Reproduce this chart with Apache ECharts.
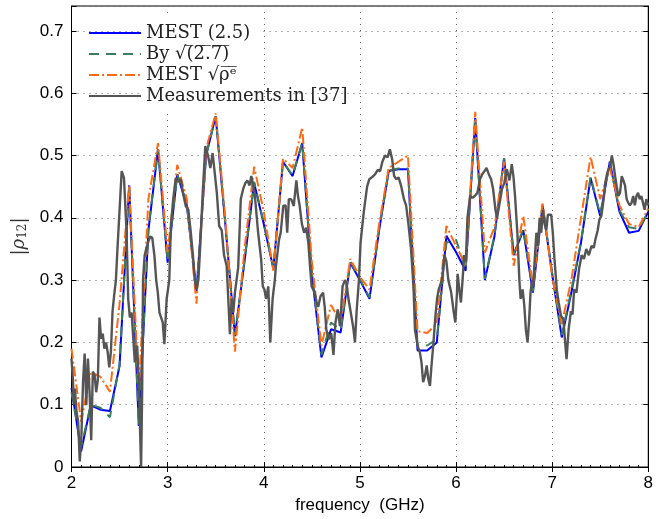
<!DOCTYPE html>
<html>
<head>
<meta charset="utf-8">
<script src="https://cdn.jsdelivr.net/npm/echarts@6/dist/echarts.min.js"></script>
<style>
  html, body { margin: 0; padding: 0; background: #fff; }
  #main { width: 656px; height: 519px; }
</style>
</head>
<body>
<div id="main"></div>
<script>
// model curves, sampled every 0.1 GHz
var modelFreq = [2.0,2.1,2.2,2.3,2.4,2.5,2.6,2.7,2.8,2.9,
                 3.0,3.1,3.2,3.3,3.4,3.5,3.6,3.7,3.8,3.9,
                 4.0,4.1,4.2,4.3,4.4,4.5,4.6,4.7,4.8,4.9,
                 5.0,5.1,5.2,5.3,5.4,5.5,5.6,5.7,5.8,5.9,
                 6.0,6.1,6.2,6.3,6.4,6.5,6.6,6.7,6.8,6.9,
                 7.0,7.1,7.2,7.3,7.4,7.5,7.6,7.7,7.8,7.9,
                 8.0];
var mest = [0.127,0.025,0.099,0.092,0.090,0.162,0.452,0.066,0.380,0.510,
            0.328,0.470,0.420,0.282,0.500,0.563,0.390,0.210,0.330,0.456,
            0.390,0.318,0.490,0.467,0.520,0.310,0.176,0.221,0.216,0.328,
            0.300,0.270,0.380,0.475,0.478,0.478,0.187,0.187,0.200,0.371,
            0.345,0.315,0.560,0.300,0.370,0.496,0.340,0.380,0.280,0.420,
            0.310,0.208,0.280,0.360,0.464,0.403,0.490,0.410,0.376,0.379,
            0.410];
var bySqrt = [0.120,0.032,0.100,0.095,0.080,0.165,0.452,0.068,0.382,0.510,
              0.330,0.470,0.422,0.284,0.500,0.563,0.392,0.212,0.332,0.458,
              0.392,0.320,0.490,0.468,0.520,0.312,0.180,0.232,0.220,0.330,
              0.302,0.272,0.382,0.476,0.479,0.479,0.195,0.195,0.205,0.360,
              0.365,0.318,0.560,0.302,0.372,0.496,0.342,0.382,0.282,0.420,
              0.312,0.212,0.284,0.362,0.466,0.405,0.490,0.412,0.385,0.382,
              0.410];
var mestRho = [0.190,0.073,0.152,0.145,0.121,0.262,0.452,0.120,0.430,0.520,
               0.345,0.485,0.430,0.262,0.510,0.568,0.400,0.185,0.350,0.482,
               0.410,0.315,0.495,0.480,0.545,0.330,0.195,0.260,0.232,0.334,
               0.305,0.285,0.390,0.480,0.490,0.500,0.218,0.215,0.230,0.387,
               0.355,0.325,0.570,0.344,0.385,0.490,0.323,0.403,0.290,0.425,
               0.305,0.230,0.300,0.400,0.498,0.430,0.480,0.420,0.390,0.385,
               0.415];

// measured curve
var measFreq = [2.000,2.015,2.025,2.035,2.052,2.069,2.086,2.103,2.120,2.137,2.154,2.171,2.188,2.205,2.222,2.240,
  2.257,2.274,2.291,2.308,2.325,2.342,2.359,2.376,2.393,2.410,2.427,2.444,2.462,2.478,2.522,2.546,2.573,2.590,
  2.607,2.625,2.659,
  2.683,2.700,2.715,2.724,2.735,2.744,2.761,2.795,2.819,2.840,2.863,2.881,2.898,2.915,2.932,2.949,2.966,2.990,
  3.017,3.034,3.058,3.085,3.113,3.137,3.160,3.188,3.215,3.239,3.263,3.283,3.300,3.320,3.341,3.365,3.392,3.420,
  3.444,3.468,3.488,3.512,3.536,3.563,3.587,3.614,3.631,3.648,3.666,3.683,3.700,3.717,3.734,3.761,3.785,3.809,
  3.829,3.853,3.870,3.905,3.939,3.973,3.990,4.007,4.024,4.047,4.068,4.092,4.115,4.125,4.159,4.176,4.203,4.227,
  4.244,4.261,4.285,4.312,4.339,4.356,4.373,4.397,4.420,4.441,4.464,4.481,4.498,4.515,4.532,4.549,4.566,4.590,
  4.617,4.634,4.651,4.678,4.702,4.725,4.746,4.769,4.793,4.820,4.844,4.861,4.881,4.905,4.929,4.949,4.966,4.990,
  5.007,5.041,5.075,5.098,5.125,5.159,5.186,5.210,5.234,5.261,5.288,5.312,5.336,5.356,5.380,5.403,5.431,5.458,
  5.481,5.505,5.532,5.549,5.560,5.573,5.600,5.624,5.641,5.658,5.678,5.695,5.712,5.729,5.742,5.763,5.786,5.803,
  5.820,5.854,5.880,5.900,5.920,5.950,5.975,5.993,6.010,6.017,6.034,6.051,6.068,6.085,6.102,6.119,6.147,6.171,
  6.195,6.222,6.249,6.273,6.297,6.317,6.341,6.365,6.386,6.410,6.427,6.444,6.461,6.478,6.502,6.529,6.556,6.580,
  6.597,6.614,6.638,6.659,6.672,6.693,6.710,6.727,6.744,6.761,6.775,6.792,6.802,6.819,6.836,6.853,6.870,6.887,
  6.904,6.922,6.939,6.956,6.973,6.990,7.007,7.024,7.041,7.048,7.068,7.092,7.116,7.133,7.150,7.171,7.195,7.212,
  7.229,7.253,7.280,7.307,7.331,7.355,7.382,7.410,7.433,7.451,7.474,7.491,7.512,7.536,7.553,7.570,7.587,7.604,
  7.621,7.638,7.655,7.672,7.689,7.706,7.724,7.741,7.758,7.775,7.792,7.809,7.826,7.843,7.860,7.877,7.894,7.911,
  7.928,7.945,7.962,7.980,8.000];
var measVal = [0.174,0.140,0.100,0.126,0.089,0.073,0.009,0.050,0.137,0.182,0.099,0.174,0.120,0.043,0.153,0.148,
  0.120,0.140,0.240,0.206,0.214,0.190,0.200,0.185,0.160,0.185,0.250,0.276,0.300,0.350,0.475,0.464,0.376,0.270,
  0.240,0.248,0.168,
  0.195,0.140,0.050,0.000,0.120,0.300,0.340,0.360,0.370,0.368,0.339,0.300,0.280,0.248,0.250,0.232,0.197,0.270,
  0.300,0.387,0.430,0.464,0.458,0.462,0.440,0.419,0.413,0.380,0.340,0.300,0.285,0.300,0.360,0.440,0.515,0.500,
  0.480,0.504,0.475,0.440,0.387,0.380,0.340,0.323,0.270,0.213,0.270,0.248,0.280,0.300,0.320,0.430,0.446,0.456,
  0.460,0.452,0.467,0.440,0.380,0.333,0.290,0.285,0.270,0.290,0.200,0.270,0.300,0.320,0.365,0.376,0.419,0.420,
  0.376,0.430,0.430,0.419,0.460,0.435,0.420,0.390,0.376,0.384,0.360,0.323,0.290,0.290,0.280,0.264,0.257,0.274,
  0.280,0.257,0.220,0.205,0.215,0.180,0.232,0.253,0.226,0.290,0.300,0.295,0.270,0.248,0.226,0.200,0.250,0.300,
  0.360,0.410,0.450,0.462,0.465,0.470,0.477,0.475,0.490,0.500,0.497,0.510,0.494,0.467,0.462,0.465,0.450,0.430,
  0.420,0.390,0.350,0.310,0.280,0.220,0.195,0.184,0.168,0.136,0.147,0.163,0.141,0.130,0.157,0.195,0.243,0.270,
  0.285,0.300,0.340,0.330,0.300,0.280,0.250,0.232,0.280,0.310,0.285,0.264,0.300,0.340,0.330,0.400,0.435,0.432,
  0.435,0.440,0.462,0.470,0.475,0.480,0.470,0.462,0.446,0.413,0.400,0.398,0.430,0.446,0.456,0.478,0.460,0.486,
  0.467,0.435,0.376,0.300,0.270,0.285,0.260,0.220,0.200,0.237,0.280,0.300,0.290,0.334,0.376,0.355,0.400,0.376,
  0.413,0.390,0.380,0.405,0.402,0.405,0.376,0.334,0.300,0.285,0.264,0.243,0.237,0.205,0.173,0.220,0.250,0.245,
  0.285,0.280,0.318,0.340,0.334,0.350,0.340,0.355,0.352,0.366,0.380,0.397,0.403,0.430,0.456,0.470,0.478,0.483,
  0.500,0.486,0.467,0.450,0.435,0.440,0.467,0.460,0.452,0.430,0.424,0.420,0.424,0.435,0.420,0.435,0.440,0.430,
  0.435,0.424,0.413,0.430,0.420];

var xTicks = [2,3,4,5,6,7,8];
var yTicks = [0,0.1,0.2,0.3,0.4,0.5,0.6,0.7];

var names = ['MEST (2.5)', 'By \u221A(\u03052\u0305.\u03057\u0305)\u0305', 'MEST \u221A\u03C1\u0305\u1D49\u0305', 'Measurements in [37]'];

function pairs(xs, ys){
    var out = [];
    for (var i = 0; i < xs.length; i++) out.push([xs[i], ys[i]]);
    return out;
}

function yLabel(v){
    for (var i = 0; i < yTicks.length; i++) {
        if (Math.abs(v - yTicks[i]) < 1e-6) return v === 0 ? '0' : yTicks[i].toFixed(1);
    }
    return '';
}

var gridDots = {show: true, lineStyle: {color: '#666', type: [1, 5], width: 1}};

var myChart = echarts.init(document.getElementById('main'));
var option = {
    animation: false,
    backgroundColor: '#fff',
    grid: {left: 71.5, right: -1.5, top: 6, bottom: 50, show: true, borderColor: '#000', borderWidth: 1},
    // white patch behind the legend text, like the original legend box
    graphic: [{
        type: 'rect', z: 1,
        shape: {x: 143, y: 14, width: 119, height: 96},
        style: {fill: '#fff'}
    }],
    legend: {
        orient: 'vertical',
        left: 83, top: 18,
        itemWidth: 52, itemHeight: 14, itemGap: 1,
        itemStyle: {opacity: 0},
        textStyle: {fontFamily: 'DejaVu Serif', fontSize: 18, color: '#222', lineHeight: 20},
        data: names
    },
    xAxis: [{
        type: 'value', min: 2, max: 8, interval: 1,
        name: 'frequency  (GHz)', nameLocation: 'middle', nameGap: 30,
        nameTextStyle: {fontFamily: 'Liberation Sans', fontSize: 17, color: '#000'},
        axisLine: {lineStyle: {color: '#000', width: 1}},
        axisTick: {inside: true, length: 5, lineStyle: {color: '#000'}},
        minorTick: {show: true, splitNumber: 10, length: 2, lineStyle: {color: '#000'}},
        axisLabel: {fontFamily: 'Liberation Sans', fontSize: 17, color: '#000', margin: 8},
        splitLine: gridDots
    }, {
        type: 'value', min: 2, max: 8, interval: 1, position: 'top',
        axisLine: {lineStyle: {color: '#000'}},
        axisTick: {inside: true, length: 5, lineStyle: {color: '#000'}},
        axisLabel: {show: false}, splitLine: {show: false}
    }],
    yAxis: [{
        type: 'value', min: 0, max: 0.74, interval: 0.1,
        name: '{t||}{r|\u03C1}{s|12}{t||}', nameLocation: 'middle', nameGap: 42, nameRotate: 90,
        nameTextStyle: {
            rich: {
                t: {fontFamily: 'DejaVu Serif', fontSize: 18, color: '#333'},
                r: {fontFamily: 'DejaVu Serif', fontSize: 18, fontStyle: 'italic', color: '#333'},
                s: {fontFamily: 'DejaVu Serif', fontSize: 12, color: '#333', padding: [8, 0, 0, 0]}
            }
        },
        axisLine: {lineStyle: {color: '#000', width: 1}},
        axisTick: {inside: true, length: 5, lineStyle: {color: '#000'}},
        axisLabel: {fontFamily: 'Liberation Sans', fontSize: 17, color: '#000', margin: 8, formatter: yLabel},
        splitLine: gridDots
    }, {
        type: 'value', min: 0, max: 0.74, interval: 0.1, position: 'right',
        axisLine: {lineStyle: {color: '#000'}},
        axisTick: {inside: true, length: 5, lineStyle: {color: '#000'}},
        axisLabel: {show: false}, splitLine: {show: false}
    }],
    series: [
        {name: names[0], type: 'line', symbol: 'none', data: pairs(modelFreq, mest),
         lineStyle: {color: '#0000ff', width: 2}, itemStyle: {color: '#0000ff'}},
        {name: names[1], type: 'line', symbol: 'none', data: pairs(modelFreq, bySqrt),
         lineStyle: {color: '#3d7d5f', width: 2, type: [10, 7]}, itemStyle: {color: '#3d7d5f'}},
        {name: names[2], type: 'line', symbol: 'none', data: pairs(modelFreq, mestRho),
         lineStyle: {color: '#ff6a13', width: 2, type: [10, 3, 2, 3]}, itemStyle: {color: '#ff6a13'}},
        {name: names[3], type: 'line', symbol: 'none', data: pairs(measFreq, measVal),
         lineStyle: {color: '#555555', width: 2.4}, itemStyle: {color: '#555555'}}
    ]
};
myChart.setOption(option);
</script>
</body>
</html>
